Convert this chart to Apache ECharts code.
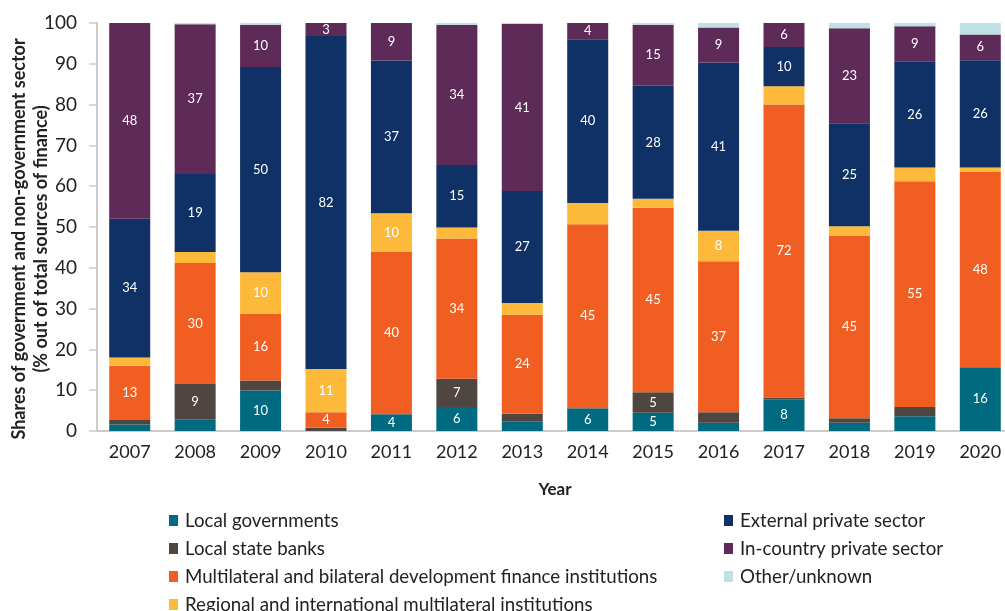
<!DOCTYPE html>
<html>
<head>
<meta charset="utf-8">
<script src="https://cdn.jsdelivr.net/npm/echarts@6/dist/echarts.min.js"></script>
<style>
  html, body { margin: 0; padding: 0; background: #fff; }
  #chart { width: 1005px; height: 611px; }
</style>
</head>
<body>
<div id="chart"></div>
<script>
const years = ['2007', '2008', '2009', '2010', '2011', '2012', '2013', '2014', '2015', '2016', '2017', '2018', '2019', '2020'];

const seriesNames = [
  'Local governments',
  'Local state banks',
  'Multilateral and bilateral development finance institutions',
  'Regional and international multilateral institutions',
  'External private sector',
  'In-country private sector',
  'Other/unknown'
];

const localGov = [1.6, 2.9, 9.9, 0, 4.1, 5.9, 2.4, 5.6, 4.5, 2.0, 7.8, 2.0, 3.6, 15.6];
const localBanks = [1.1, 8.6, 2.5, 0.8, 0, 6.9, 1.8, 0, 5.0, 2.6, 0.4, 1.1, 2.3, 0];
const multilateral = [13.3, 29.7, 16.4, 3.8, 39.8, 34.4, 24.3, 45.1, 45.2, 37.0, 71.8, 44.7, 55.3, 47.9];
const regional = [2.0, 2.7, 10.1, 10.6, 9.5, 2.7, 2.9, 5.2, 2.2, 7.5, 4.5, 2.4, 3.4, 1.1];
const externalPrivate = [34.0, 19.1, 50.3, 81.6, 37.4, 15.3, 27.4, 40.1, 27.7, 41.2, 9.6, 25.2, 26.0, 26.3];
const inCountry = [48.0, 36.7, 10.4, 3.2, 9.2, 34.3, 41.0, 4.0, 15.0, 8.6, 5.9, 23.3, 8.6, 6.3];
const other = [0, 0.3, 0.4, 0, 0, 0.5, 0.2, 0, 0.4, 1.1, 0, 1.3, 0.8, 2.8];

const yTicks = [0, 10, 20, 30, 40, 50, 60, 70, 80, 90, 100];

const colors = ['#006A80', '#4F4641', '#F15E22', '#FDBA3A', '#0F3166', '#5E2A57', '#BFE1E5'];
// smallest segment that still gets a value label, per series
const labelMin = [4, 4, 3, 6, 3, 3, 100];

const allData = [localGov, localBanks, multilateral, regional, externalPrivate, inCountry, other];

const chart = echarts.init(document.getElementById('chart'));

const series = allData.map((data, i) => ({
  name: seriesNames[i],
  type: 'bar',
  stack: 'total',
  barWidth: 41,
  data: data,
  itemStyle: { color: colors[i] },
  label: {
    show: true,
    position: 'inside',
    color: '#fff',
    fontFamily: 'Lato',
    fontSize: 13,
    formatter: (p) => (p.value >= labelMin[i] ? Math.round(p.value) : '')
  },
  emphasis: { disabled: true }
}));

const legendText = {
  fontFamily: 'Lato',
  fontSize: 18.7,
  color: '#222',
  padding: [0, 0, 0, 2]
};

chart.setOption({
  animation: false,
  textStyle: { fontFamily: 'Lato' },
  grid: {
    left: 97,
    right: -8,
    top: 23,
    bottom: 180,
    outerBoundsMode: 'none'
  },
  legend: [
    {
      data: seriesNames.slice(0, 4),
      orient: 'vertical',
      left: 164,
      top: 506,
      height: 200,
      itemWidth: 9,
      itemHeight: 11,
      itemGap: 9,
      icon: 'rect',
      textStyle: legendText
    },
    {
      data: seriesNames.slice(4),
      orient: 'vertical',
      left: 719,
      top: 506,
      height: 200,
      itemWidth: 9,
      itemHeight: 11,
      itemGap: 9,
      icon: 'rect',
      textStyle: legendText
    }
  ],
  xAxis: {
    type: 'category',
    data: years,
    name: 'Year',
    nameLocation: 'middle',
    nameGap: 50,
    nameTextStyle: { fontFamily: 'Lato', fontSize: 17, fontWeight: 'bold', color: '#222' },
    axisLine: { lineStyle: { color: '#cfcac6', width: 2 } },
    axisTick: { show: false },
    axisLabel: { fontFamily: 'Lato', fontSize: 18, color: '#222', margin: 12 }
  },
  yAxis: {
    type: 'value',
    min: yTicks[0],
    max: yTicks[yTicks.length - 1],
    interval: 10,
    name: 'Shares of government and non-government sector\n(% out of total sources of finance)',
    nameLocation: 'middle',
    nameGap: 45,
    nameMoveOverlap: false,
    nameTextStyle: {
      fontFamily: 'Lato', fontSize: 18, fontWeight: 'bold', color: '#222', lineHeight: 22,
      padding: [0, 24, 0, 0]
    },
    axisLine: { show: true, lineStyle: { color: '#cfcac6', width: 2 } },
    axisTick: { show: true, length: 8, lineStyle: { color: '#cfcac6', width: 1.5 } },
    splitLine: { show: false },
    axisLabel: { fontFamily: 'Lato', fontSize: 19, color: '#222', margin: 20 }
  },
  series: series
});
</script>
</body>
</html>
